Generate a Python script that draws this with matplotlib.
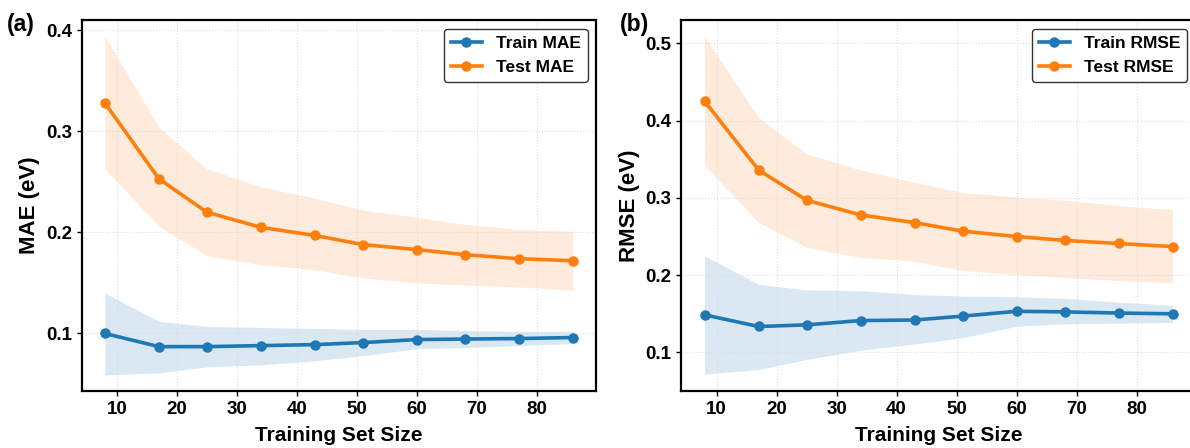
import matplotlib
matplotlib.use("Agg")
import matplotlib.pyplot as plt
import numpy as np

plt.rcParams['font.family'] = ['Liberation Sans', 'DejaVu Sans']
plt.rcParams['font.weight'] = 'bold'

# training set sizes
sizes = [8, 17, 25, 34, 43, 51, 60, 68, 77, 86]

# MAE panel
train_mae = [0.100, 0.087, 0.087, 0.088, 0.089, 0.091, 0.094, 0.0945, 0.095, 0.096]
train_mae_lo = [0.059, 0.061, 0.067, 0.069, 0.073, 0.078, 0.085, 0.086, 0.088, 0.090]
train_mae_hi = [0.140, 0.112, 0.107, 0.106, 0.105, 0.104, 0.104, 0.103, 0.102, 0.102]
test_mae = [0.328, 0.253, 0.220, 0.205, 0.197, 0.188, 0.183, 0.178, 0.174, 0.172]
test_mae_lo = [0.263, 0.206, 0.177, 0.168, 0.163, 0.155, 0.150, 0.148, 0.146, 0.143]
test_mae_hi = [0.394, 0.304, 0.263, 0.245, 0.234, 0.222, 0.215, 0.208, 0.203, 0.201]

# RMSE panel
train_rmse = [0.1486, 0.1336, 0.1357, 0.1413, 0.142, 0.147, 0.1533, 0.1525, 0.151, 0.150]
train_rmse_lo = [0.072, 0.078, 0.091, 0.103, 0.111, 0.119, 0.134, 0.137, 0.138, 0.139]
train_rmse_hi = [0.225, 0.188, 0.181, 0.180, 0.175, 0.173, 0.172, 0.170, 0.165, 0.161]
test_rmse = [0.425, 0.336, 0.297, 0.278, 0.268, 0.257, 0.250, 0.245, 0.241, 0.237]
test_rmse_lo = [0.342, 0.268, 0.236, 0.223, 0.218, 0.206, 0.201, 0.197, 0.193, 0.190]
test_rmse_hi = [0.509, 0.404, 0.357, 0.336, 0.320, 0.307, 0.301, 0.297, 0.290, 0.285]

blue = '#1f77b4'
orange = '#ff7f0e'

fig = plt.figure(figsize=(11.9, 4.48), dpi=100)
ax1 = fig.add_axes([0.0685, 0.127, 0.4325, 0.828])
ax2 = fig.add_axes([0.5725, 0.127, 0.4325, 0.828])


def draw_panel(ax, metric, tr, tr_lo, tr_hi, te, te_lo, te_hi, ylim, yticks):
    ax.fill_between(sizes, tr_lo, tr_hi, color=blue, alpha=0.17, linewidth=0)
    ax.fill_between(sizes, te_lo, te_hi, color=orange, alpha=0.15, linewidth=0)
    ax.plot(sizes, tr, marker='o', color=blue, lw=2.6, ms=6.5, label=f'Train {metric}')
    ax.plot(sizes, te, marker='o', color=orange, lw=2.6, ms=6.5, label=f'Test {metric}')
    ax.set_xlim(4.1, 89.9)
    ax.set_ylim(*ylim)
    ax.set_xticks([10, 20, 30, 40, 50, 60, 70, 80])
    ax.set_yticks(yticks)
    ax.set_yticklabels([f'{t:.1f}' for t in yticks])
    ax.tick_params(labelsize=13.5, width=1.0)
    for lab in ax.get_xticklabels() + ax.get_yticklabels():
        lab.set_fontweight('bold')
    ax.set_xlabel('Training Set Size', fontsize=15, fontweight='bold', labelpad=6)
    ax.set_ylabel(f'{metric} (eV)', fontsize=16, fontweight='bold')
    ax.grid(True, linestyle=':', color='#dddddd', linewidth=0.8)
    for s in ax.spines.values():
        s.set_linewidth(1.6)
    leg = ax.legend(loc='upper right', prop={'weight': 'bold', 'size': 12.5},
                    frameon=True, edgecolor='#333333', fancybox=True, framealpha=1,
                    handlelength=1.8)
    leg.get_frame().set_linewidth(1.0)
    return ax


draw_panel(ax1, 'MAE', train_mae, train_mae_lo, train_mae_hi,
           test_mae, test_mae_lo, test_mae_hi, (0.043, 0.41), [0.1, 0.2, 0.3, 0.4])
draw_panel(ax2, 'RMSE', train_rmse, train_rmse_lo, train_rmse_hi,
           test_rmse, test_rmse_lo, test_rmse_hi, (0.05, 0.53), [0.1, 0.2, 0.3, 0.4, 0.5])

fig.text(0.006, 0.945, '(a)', fontsize=16.5, fontweight='bold', va='center')
fig.text(0.521, 0.945, '(b)', fontsize=16.5, fontweight='bold', va='center')

fig.savefig('out.png', dpi=100)
